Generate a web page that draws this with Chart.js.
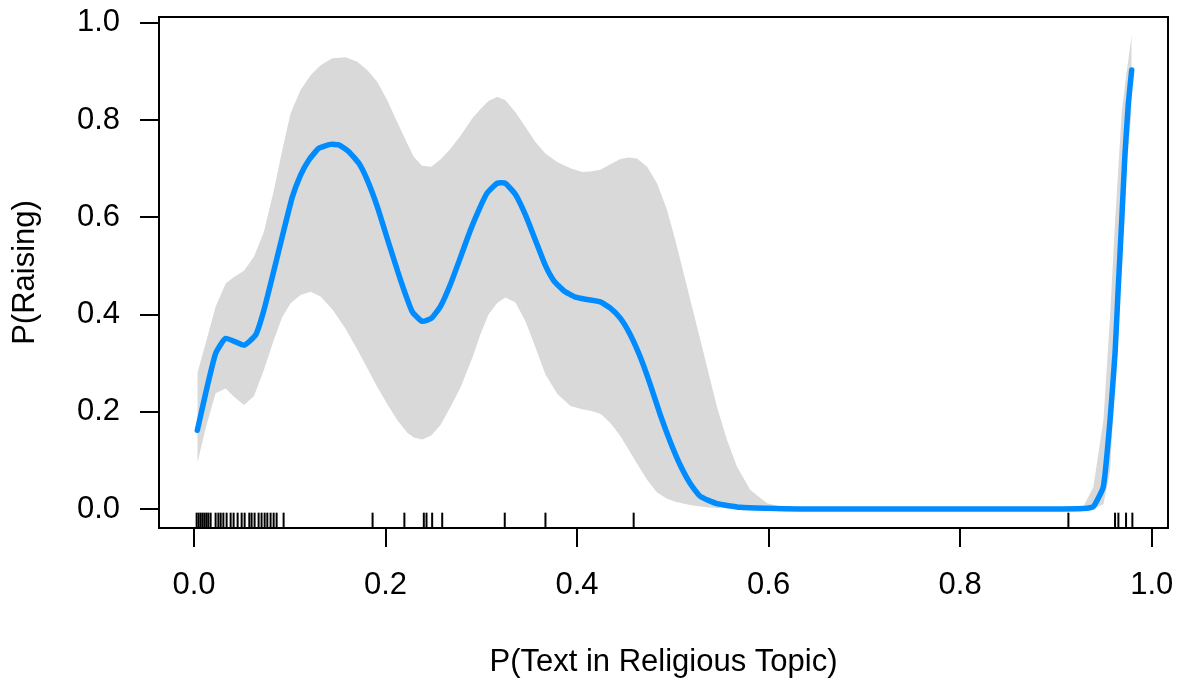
<!DOCTYPE html>
<html>
<head>
<meta charset="utf-8">
<script src="https://cdn.jsdelivr.net/npm/chart.js@4"></script>
<style>
  html, body { margin: 0; padding: 0; background: #fff; }
  canvas { display: block; }
</style>
</head>
<body>
<canvas id="chart" width="1177" height="679"></canvas>
<script>
// Ticks
const xTicks = [0, 0.2, 0.4, 0.6, 0.8, 1.0];
const yTicks = [0, 0.2, 0.4, 0.6, 0.8, 1.0];

// Fitted curve
const lineX = [0.0035, 0.0122, 0.0226, 0.0331, 0.0522, 0.0644, 0.0730, 0.0835, 0.0939, 0.1027,
  0.1113, 0.1200, 0.1304, 0.1426, 0.1513, 0.1617, 0.1722, 0.1809, 0.1914, 0.2035,
  0.2157, 0.2279, 0.2383, 0.2477, 0.2574, 0.2679, 0.2783, 0.2887, 0.2974, 0.3061,
  0.3166, 0.3252, 0.3357, 0.3461, 0.3565, 0.3669, 0.3756, 0.3861, 0.3983, 0.4105,
  0.4243, 0.4348, 0.4453, 0.4557, 0.4661, 0.4766, 0.4870, 0.4974, 0.5078, 0.5183,
  0.5287, 0.5461, 0.5704, 0.5983, 0.633, 0.70, 0.80, 0.894, 0.9286, 0.9390,
  0.9495, 0.9565, 0.9617, 0.9651, 0.9687, 0.9721, 0.9756, 0.9791];
const lineY = [0.162, 0.238, 0.320, 0.351, 0.337, 0.358, 0.409, 0.491, 0.574, 0.642,
  0.687, 0.718, 0.742, 0.750, 0.749, 0.735, 0.711, 0.677, 0.622, 0.546,
  0.471, 0.406, 0.386, 0.392, 0.417, 0.463, 0.518, 0.574, 0.615, 0.650,
  0.670, 0.670, 0.647, 0.605, 0.553, 0.501, 0.470, 0.449, 0.436, 0.431,
  0.426, 0.413, 0.392, 0.358, 0.312, 0.255, 0.193, 0.138, 0.090, 0.052,
  0.026, 0.011, 0.0035, 0.0015, 0, 0, 0, 0, 0.001, 0.005,
  0.046, 0.183, 0.320, 0.457, 0.594, 0.731, 0.834, 0.903];

// Confidence band
const bandX = [0.0035, 0.0122, 0.0226, 0.0331, 0.0418, 0.0522, 0.0626, 0.0730, 0.0835, 0.0922,
  0.1009, 0.1113, 0.1218, 0.1322, 0.1444, 0.1583, 0.1705, 0.1809, 0.1914, 0.2018,
  0.2122, 0.2227, 0.2296, 0.2383, 0.2477, 0.2574, 0.2678, 0.2783, 0.2905, 0.2992,
  0.3075, 0.3166, 0.3252, 0.3357, 0.3461, 0.3565, 0.3669, 0.3792, 0.3931, 0.4053,
  0.4140, 0.4244, 0.4348, 0.4452, 0.4539, 0.4627, 0.4731, 0.4835, 0.4940, 0.5026,
  0.5113, 0.5200, 0.5287, 0.5374, 0.5461, 0.5566, 0.5670, 0.5809, 0.5983, 0.6192,
  0.70, 0.80, 0.9286, 0.9390, 0.9496, 0.9566, 0.9618, 0.9687, 0.9732, 0.9791];
const bandLow = [0.094, 0.166, 0.238, 0.248, 0.231, 0.214, 0.232, 0.286, 0.348, 0.395,
  0.423, 0.440, 0.447, 0.437, 0.411, 0.371, 0.328, 0.290, 0.251, 0.216,
  0.183, 0.157, 0.147, 0.143, 0.151, 0.173, 0.210, 0.250, 0.310, 0.360,
  0.400, 0.424, 0.435, 0.425, 0.386, 0.333, 0.277, 0.237, 0.212, 0.205,
  0.202, 0.196, 0.177, 0.150, 0.122, 0.093, 0.060, 0.034, 0.021, 0.015,
  0.011, 0.008, 0.005, 0.003, 0.002, 0.0015, 0.001, 0.0005, 0, 0,
  0, 0, 0, 0, 0.010, 0.080, 0.265, 0.533, 0.690, 0.820];
const bandHigh = [0.279, 0.341, 0.416, 0.464, 0.477, 0.490, 0.519, 0.570, 0.656, 0.738,
  0.814, 0.862, 0.892, 0.913, 0.927, 0.929, 0.920, 0.903, 0.879, 0.841,
  0.796, 0.752, 0.724, 0.706, 0.704, 0.719, 0.741, 0.768, 0.803, 0.823,
  0.839, 0.848, 0.841, 0.816, 0.786, 0.755, 0.731, 0.714, 0.701, 0.693,
  0.694, 0.698, 0.709, 0.720, 0.723, 0.721, 0.704, 0.670, 0.615, 0.553,
  0.485, 0.416, 0.348, 0.279, 0.210, 0.142, 0.087, 0.039, 0.012, 0.0015,
  0, 0, 0.005, 0.045, 0.183, 0.400, 0.594, 0.816, 0.890, 0.975];

// Rug (observed x values)
const rugX = [0.0028, 0.0049, 0.007, 0.009, 0.011, 0.013, 0.015, 0.0174, 0.0226, 0.0255,
  0.0279, 0.0307, 0.0341, 0.0383, 0.0414, 0.0456, 0.0498, 0.0529, 0.0578, 0.0602,
  0.0633, 0.0675, 0.0706, 0.0738, 0.0766, 0.080, 0.0832, 0.0863, 0.0936, 0.1865,
  0.2197, 0.240, 0.2428, 0.2487, 0.2592, 0.3245, 0.367, 0.4591, 0.913, 0.9617,
  0.9652, 0.9732, 0.9798];

const pts = (xs, ys) => xs.map((x, i) => ({ x: x, y: ys[i] }));

const FONT = { family: "'Liberation Sans', Arial, sans-serif", size: 31 };

// box around the plot region + rug ticks
const rStyle = {
  id: 'rStyle',
  afterDatasetsDraw(chart) {
    const ctx = chart.ctx;
    const a = chart.chartArea;
    const xs = chart.scales.x;
    ctx.save();
    ctx.strokeStyle = '#000';
    ctx.lineWidth = 2;
    const len = (a.bottom - a.top) * 0.03;
    rugX.forEach(v => {
      const px = xs.getPixelForValue(v);
      ctx.beginPath();
      ctx.moveTo(px, a.bottom);
      ctx.lineTo(px, a.bottom - len);
      ctx.stroke();
    });
    ctx.strokeRect(a.left, a.top, a.right - a.left, a.bottom - a.top);
    ctx.restore();
  }
};

new Chart(document.getElementById('chart').getContext('2d'), {
  type: 'line',
  data: {
    datasets: [
      {
        data: pts(lineX, lineY),
        borderColor: '#008CFF',
        borderWidth: 5.5,
        borderCapStyle: 'round',
        borderJoinStyle: 'round',
        pointRadius: 0,
        tension: 0.15,
        fill: false,
        order: 0
      },
      {
        data: pts(bandX, bandLow),
        borderWidth: 0,
        pointRadius: 0,
        fill: false,
        order: 1
      },
      {
        data: pts(bandX, bandHigh),
        borderWidth: 0,
        pointRadius: 0,
        backgroundColor: '#D9D9D9',
        fill: 1,
        order: 2
      }
    ]
  },
  options: {
    responsive: false,
    animation: false,
    layout: { padding: { top: 17, right: 9, left: 0, bottom: 0 } },
    plugins: { legend: { display: false }, tooltip: { enabled: false } },
    scales: {
      x: {
        type: 'linear',
        min: -0.0365,
        max: 1.017,
        afterFit: s => { s.height = 151; s.paddingLeft = 0; s.paddingRight = 0; },
        afterBuildTicks: s => { s.ticks = xTicks.map(v => ({ value: v })); },
        border: { display: false },
        grid: { drawOnChartArea: false, drawTicks: true, tickLength: 19, color: '#000', lineWidth: 2 },
        ticks: { color: '#000', font: FONT, padding: 20, maxRotation: 0, autoSkip: false,
          callback: v => v.toFixed(1) },
        title: { display: true, text: 'P(Text in Religious Topic)', color: '#000', font: FONT,
          padding: { top: 0, bottom: -2 } }
      },
      y: {
        type: 'linear',
        min: -0.039,
        max: 1.012,
        afterFit: s => { s.width = 159; s.paddingTop = 0; s.paddingBottom = 0; },
        afterBuildTicks: s => { s.ticks = yTicks.map(v => ({ value: v })); },
        border: { display: false },
        grid: { drawOnChartArea: false, drawTicks: true, tickLength: 19, color: '#000', lineWidth: 2 },
        ticks: { color: '#000', font: FONT, padding: 20, autoSkip: false,
          callback: v => v.toFixed(1) },
        title: { display: true, text: 'P(Raising)', color: '#000', font: FONT,
          padding: { top: 7, bottom: 0 } }
      }
    }
  },
  plugins: [rStyle]
});
</script>
</body>
</html>
